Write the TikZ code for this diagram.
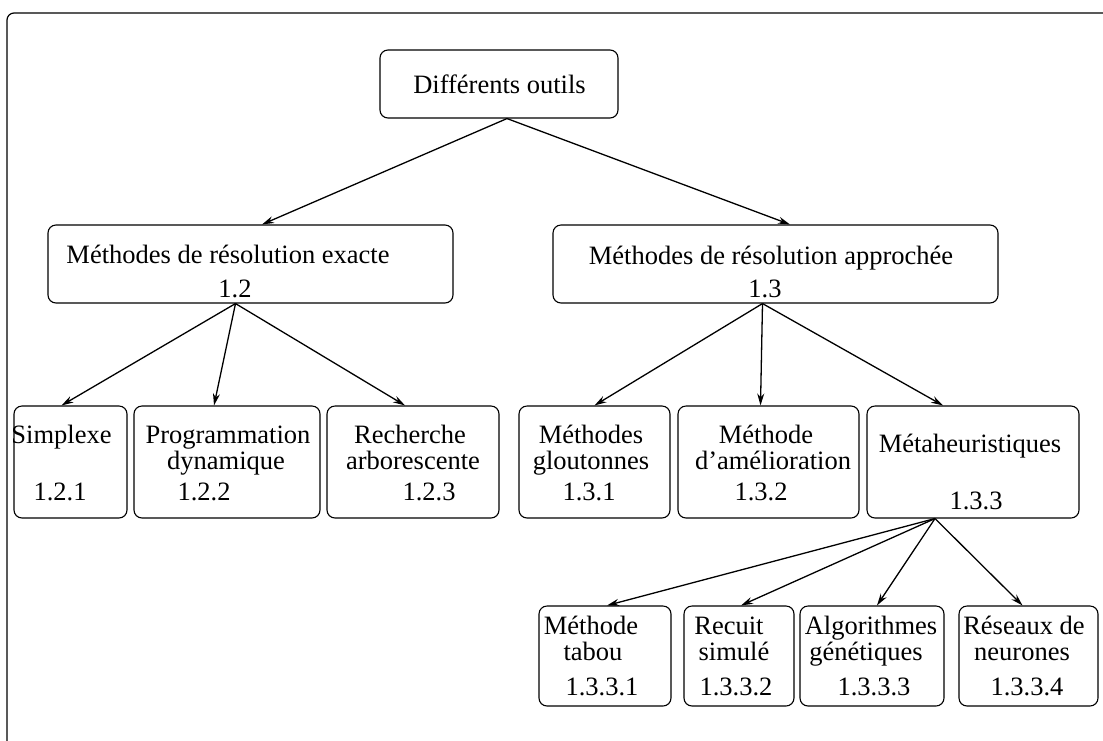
\documentclass[tikz,border=0pt]{standalone}
\usepackage{fontspec}
\setmainfont{Liberation Serif}
\usetikzlibrary{arrows.meta}
\tikzset{
  box/.style={draw, rounded corners=8pt, line width=1.1pt, inner sep=0pt},
  txt/.style={anchor=base, inner sep=0pt, font=\fontsize{26.5}{30}\selectfont},
  arr/.style={-{Stealth[length=12pt,width=7pt]}, line width=1.3pt},
  frame/.style={line width=1.2pt, rounded corners=7pt}
}
\newcommand\bx[5]{\node[box, minimum width={#4-#2}, minimum height={#5-#3}] (#1) at ({(#2+#4)/2},{(#3+#5)/2}) {};}
\newcommand\tx[4]{\node[txt] (#1) at (#2,#3) {#4};}
\begin{document}
\begin{tikzpicture}[x=1pt,y=-1pt]
\useasboundingbox (0,0) rectangle (1103,740);
\draw[frame] (7,741) -- (7,13) -- (1104,13);

% boxes
\bx{top}{380}{50}{618}{118}
\bx{la}{48}{225}{453}{303}
\bx{lb}{553}{225}{998}{303}
\bx{s1}{14}{406}{127}{518}
\bx{s2}{134}{406}{320}{518}
\bx{s3}{327}{406}{499}{518}
\bx{g1}{519}{406}{670}{518}
\bx{g2}{678}{406}{859}{518}
\bx{g3}{867}{406}{1079}{518}
\bx{t1}{539}{606}{671}{706}
\bx{t2}{684}{606}{794}{706}
\bx{t3}{800}{606}{944}{706}
\bx{t4}{959}{606}{1098}{706}

% texts
\tx{topT}{499.5}{93}{Différents outils}
\tx{laT}{228}{263}{Méthodes de résolution exacte}
\tx{laN}{235}{297}{1.2}
\tx{lbT}{771}{264}{Méthodes de résolution approchée}
\tx{lbN}{765}{297}{1.3}

\tx{s1a}{61.5}{443}{Simplexe}
\tx{s1n}{60}{500}{1.2.1}
\tx{s2a}{228}{443}{Programmation}
\tx{s2b}{226}{469}{dynamique}
\tx{s2n}{204}{500}{1.2.2}
\tx{s3a}{410}{443}{Recherche}
\tx{s3b}{413}{469}{arborescente}
\tx{s3n}{429}{500}{1.2.3}

\tx{g1a}{591}{443}{Méthodes}
\tx{g1b}{591}{469}{gloutonnes}
\tx{g1n}{589}{500}{1.3.1}
\tx{g2a}{766}{443}{Méthode}
\tx{g2b}{773}{469}{d'amélioration}
\tx{g2n}{761}{500}{1.3.2}
\tx{g3a}{970}{452}{Métaheuristiques}
\tx{g3n}{976}{509}{1.3.3}

\tx{t1a}{591}{634}{Méthode}
\tx{t1b}{593}{660}{tabou}
\tx{t1n}{602}{695}{1.3.3.1}
\tx{t2a}{729}{634}{Recuit}
\tx{t2b}{734}{660}{simulé}
\tx{t2n}{736}{695}{1.3.3.2}
\tx{t3a}{871}{634}{Algorithmes}
\tx{t3b}{866}{660}{génétiques}
\tx{t3n}{874}{695}{1.3.3.3}
\tx{t4a}{1024}{634}{Réseaux de}
\tx{t4b}{1022}{660}{neurones}
\tx{t4n}{1027}{695}{1.3.3.4}

% connectors
\draw[arr] ([xshift=8pt]top.south) -- ([xshift=11.5pt]la.north);
\draw[arr] ([xshift=8pt]top.south) -- ([xshift=14.5pt]lb.north);

\draw[arr] ([xshift=-15pt]la.south) -- ([xshift=-9pt]s1.north);
\draw[arr] ([xshift=-15pt]la.south) -- ([xshift=-13pt]s2.north);
\draw[arr] ([xshift=-15pt]la.south) -- ([xshift=-8pt]s3.north);

\draw[arr] ([xshift=-13pt]lb.south) -- (g1.north);
\draw[arr] ([xshift=-13pt]lb.south) -- ([xshift=-8pt]g2.north);
\draw[arr] ([xshift=-13pt]lb.south) -- ([xshift=-30pt]g3.north);

\draw[arr] ([xshift=-38pt]g3.south) -- ([xshift=2pt]t1.north);
\draw[arr] ([xshift=-38pt]g3.south) -- ([xshift=2pt]t2.north);
\draw[arr] ([xshift=-38pt]g3.south) -- ([xshift=5pt]t3.north);
\draw[arr] ([xshift=-38pt]g3.south) -- ([xshift=-6pt]t4.north);
\end{tikzpicture}
\end{document}
